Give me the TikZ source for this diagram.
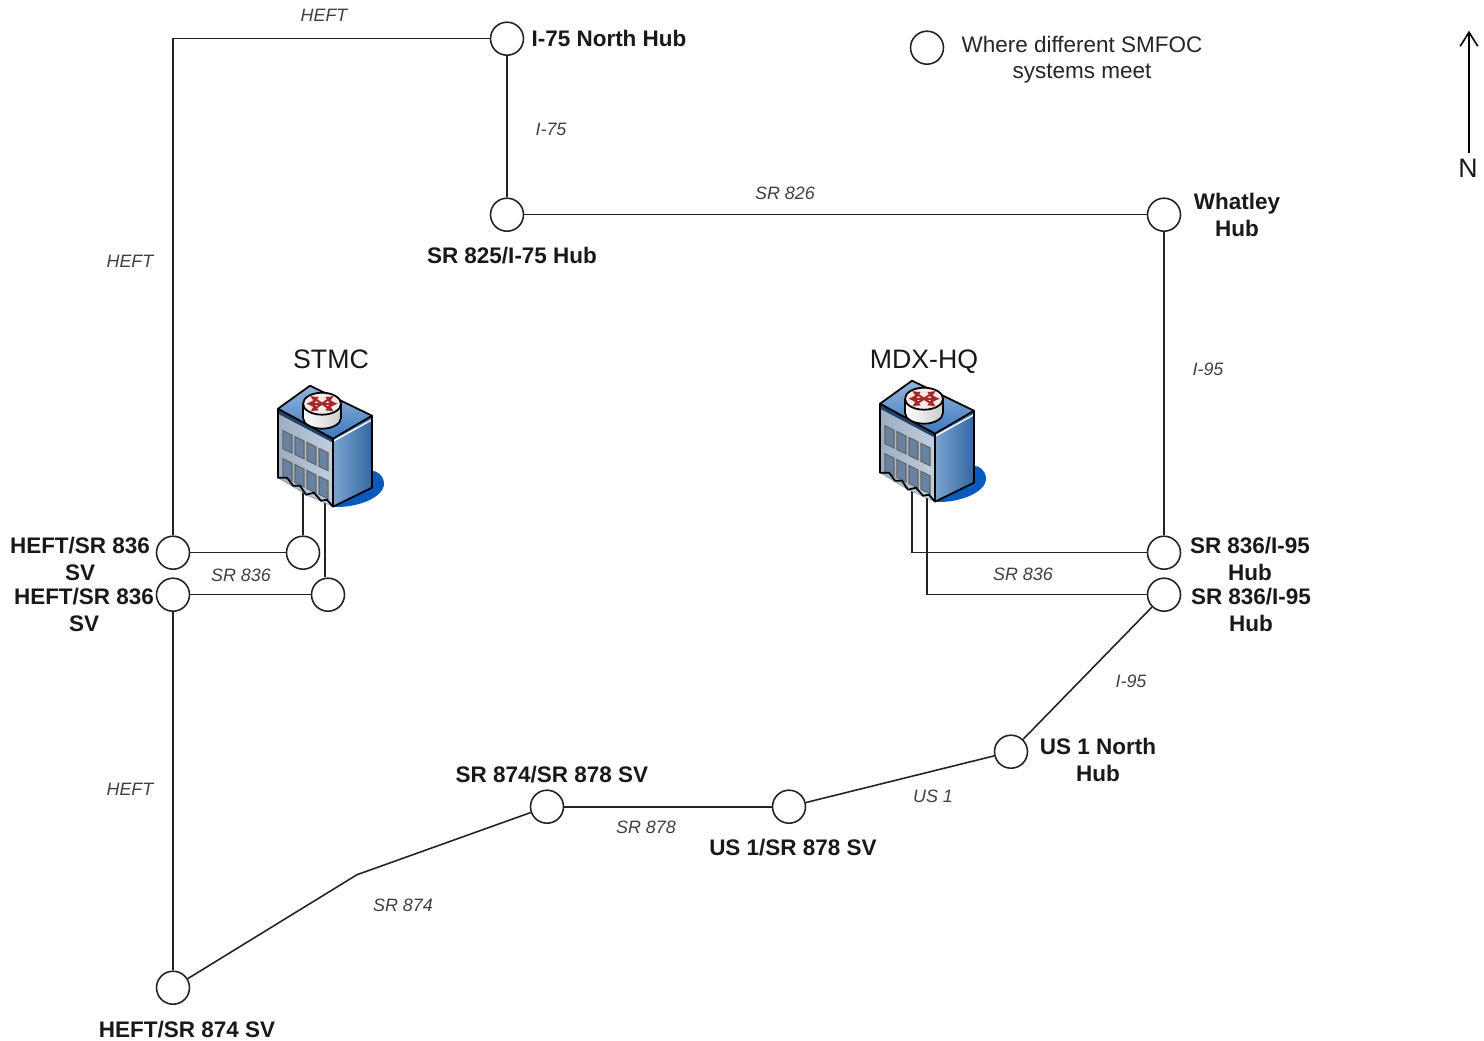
\documentclass[tikz,border=0pt]{standalone}
\usepackage{fontspec}
\setmainfont{Liberation Sans}
\definecolor{linegray}{RGB}{35,35,35}
\definecolor{roofblue}{RGB}{62,120,190}
\definecolor{wallblue}{RGB}{55,115,180}
\definecolor{wallgray}{RGB}{165,185,210}
\definecolor{windowgray}{RGB}{105,130,160}
\definecolor{shadowblue}{RGB}{10,90,190}
\definecolor{routerred}{RGB}{165,40,40}
\usetikzlibrary{arrows.meta,positioning}
\tikzset{
    hub/.style={draw=linegray, fill=white, circle, line width=0.9pt, minimum size=0.66cm, inner sep=0pt},
    hublabel/.style={font=\fontsize{12.8}{15.3}\selectfont\bfseries, align=center, inner sep=0pt, text=black!90},
    roadlabel/.style={font=\fontsize{10.2}{12}\selectfont\itshape, inner sep=0pt, text=black!75},
    sitelabel/.style={font=\fontsize{15.2}{18}\selectfont, inner sep=0pt, text=black!90},
    noteline/.style={font=\fontsize{12.8}{15.3}\selectfont, align=center, inner sep=0pt, text=black!85},
    link/.style={draw=linegray, line width=0.9pt},
    hqbuilding/.pic={
        % shadow on the ground
        \fill[shadowblue] (0,68) .. controls (20,70) and (52,60) .. (51,44) .. controls (50,36) and (44,32) .. (38,32) -- cycle;
        % walls
        \fill[left color=wallgray!80!gray, right color=wallgray!70!white] (-55,-30) -- (0,0) -- (0,68) -- (-27,56) -- (-55,39) -- cycle;
        \fill[left color=wallblue!65!white, right color=wallblue!90!black] (0,0) -- (39,-23) -- (39,49) -- (0,68) -- cycle;
        % roof
        \fill[top color=roofblue!55!white, bottom color=roofblue] (-23,-53) -- (39,-23) -- (0,0) -- (-55,-30) -- cycle;
        \fill[roofblue!55!black] (-55,-30) -- (0,0) -- (0,4) -- (-55,-25) -- cycle;
        \draw[white, line width=0.8pt] (1,2) -- (39,-19);
        % windows
        \foreach \wx in {-50,-38,-26,-14}{
            \draw[black!60, fill=windowgray, line width=0.6pt] (\wx,{-8+0.49*(\wx+50)}) -- ++(9,4.4) -- ++(0,18) -- ++(-9,-4.4) -- cycle;
            \draw[black!60, fill=windowgray, line width=0.6pt] (\wx,{20+0.49*(\wx+50)}) -- ++(9,4.4) -- ++(0,18) -- ++(-9,-4.4) -- cycle;
        }
        % outline
        \draw[black, line width=1pt, line join=round] (-23,-53) -- (39,-23) -- (39,49) -- (0,68) -- (-6,61) -- (-12,62) -- (-19,54) -- (-27,56) -- (-33,47) -- (-40,47) -- (-46,39) -- (-55,39) -- (-55,-30) -- cycle;
        \draw[black, line width=1pt] (-55,-30) -- (0,0) -- (39,-23);
        \draw[black, line width=0.8pt] (0,0) -- (0,68);
        % router on the roof
        \shade[left color=white, right color=black!20] (-30,-35) -- (-30,-21) arc[start angle=180, end angle=0, x radius=19, y radius=11] -- (8,-35) -- cycle;
        \draw[black, line width=1pt] (-30,-35) -- (-30,-21) arc[start angle=180, end angle=0, x radius=19, y radius=11] -- (8,-35);
        \draw[black, fill=white!90!routerred, line width=1pt] (-11,-35) ellipse [x radius=19, y radius=11];
        \foreach \ax/\ay in {-23/-43, 1/-43, -23/-27, 1/-27}{
            \draw[routerred, line width=1.2pt, {Latex[length=4.5pt,width=4.5pt]}-] (\ax,\ay) -- (-11,-35);
        }
        \draw[routerred, line width=1.2pt, {Latex[length=4.5pt,width=4.5pt]}-{Latex[length=4.5pt,width=4.5pt]}] (-27,-35) -- (5,-35);
    }
}

\begin{document}
\begin{tikzpicture}[x=0.02cm, y=-0.02cm]
    \useasboundingbox (0,-0.7) rectangle (1484,1040.3);

    % hubs
    \node[hub] (northhub) at (507,38) {};
    \node[hub] (sr825hub) at (507,214) {};
    \node[hub] (whatley) at (1164,214) {};
    \node[hub] (eastupper) at (1164,552) {};
    \node[hub] (eastlower) at (1164,594) {};
    \node[hub] (us1north) at (1011,751) {};
    \node[hub] (us1sr878) at (789,806) {};
    \node[hub] (sr874sr878) at (547,806) {};
    \node[hub] (heft874) at (173,987) {};
    \node[hub] (heftupper) at (173,552) {};
    \node[hub] (heftlower) at (173,594) {};
    \node[hub] (stmcupper) at (303,552) {};
    \node[hub] (stmclower) at (328,594) {};
    \node[hub] (legendhub) at (927,47) {};

    \coordinate (northwest) at (173,38);
    \coordinate (sr874bend) at (357,874);
    \coordinate (stmcportA) at (303,490);
    \coordinate (stmcportB) at (325,495);
    \coordinate (mdxportA) at (912,485);
    \coordinate (mdxportB) at (927,492);
    \coordinate (mdxcornerA) at (912,552);
    \coordinate (mdxcornerB) at (927,594);
    \coordinate (arrowfoot) at (1469,152);
    \coordinate (arrowtip) at (1469,30);

    % links
    \draw[link] (northhub) -- (northwest) -- (heftupper);
    \draw[link] (northhub) -- (sr825hub);
    \draw[link] (sr825hub) -- (whatley);
    \draw[link] (whatley) -- (eastupper);
    \draw[link] (eastlower) -- (us1north);
    \draw[link] (us1north) -- (us1sr878);
    \draw[link] (us1sr878) -- (sr874sr878);
    \draw[link] (sr874sr878) -- (sr874bend) -- (heft874);
    \draw[link] (heft874) -- (heftlower);
    \draw[link] (heftupper) -- (stmcupper);
    \draw[link] (heftlower) -- (stmclower);
    \draw[link] (stmcupper) -- (stmcportA);
    \draw[link] (stmclower.north -| stmcportB) -- (stmcportB);
    \draw[link] (eastupper) -- (mdxcornerA) -- (mdxportA);
    \draw[link] (eastlower) -- (mdxcornerB) -- (mdxportB);
    \draw[line width=0.9pt, -{Straight Barb[length=8pt,width=10pt]}] (arrowfoot) -- (arrowtip);

    % buildings
    \pic at (333,438) {hqbuilding};
    \pic at (935,433) {hqbuilding};

    % hub labels
    \node[hublabel] (northhublabel) at (609,37.5) {I-75 North Hub};
    \node[hublabel] (sr825label) at (512,254.5) {SR 825/I-75 Hub};
    \node[hublabel] (whatleylabel) at (1237,214) {Whatley\\Hub};
    \node[hublabel] (eastupperlabel) at (1250,558) {SR 836/I-95\\Hub};
    \node[hublabel] (eastlowerlabel) at (1251,609) {SR 836/I-95\\Hub};
    \node[hublabel] (heftupperlabel) at (80,558) {HEFT/SR 836\\SV};
    \node[hublabel] (heftlowerlabel) at (84,609) {HEFT/SR 836\\SV};
    \node[hublabel] (us1northlabel) at (1098,759) {US 1 North\\Hub};
    \node[hublabel] (sr874sr878label) at (552,773.5) {SR 874/SR 878 SV};
    \node[hublabel] (us1sr878label) at (793,846.5) {US 1/SR 878 SV};
    \node[hublabel] (heft874label) at (187,1028.5) {HEFT/SR 874 SV};

    % road labels
    \node[roadlabel] (heftnorth) at (324,15) {HEFT};
    \node[roadlabel] (heftwest) at (130,261) {HEFT};
    \node[roadlabel] (heftsouth) at (130,789) {HEFT};
    \node[roadlabel] (i75road) at (551,129) {I-75};
    \node[roadlabel] (sr826road) at (785,193) {SR 826};
    \node[roadlabel] (i95upper) at (1208,369) {I-95};
    \node[roadlabel] (i95lower) at (1131,681) {I-95};
    \node[roadlabel] (sr836west) at (241,575) {SR 836};
    \node[roadlabel] (sr836east) at (1023,574) {SR 836};
    \node[roadlabel] (us1road) at (933,796) {US 1};
    \node[roadlabel] (sr878road) at (646,827) {SR 878};
    \node[roadlabel] (sr874road) at (403,905) {SR 874};

    % sites, legend and north mark
    \node[sitelabel] (stmclabel) at (331,358.5) {STMC};
    \node[sitelabel] (mdxlabel) at (924,361) {MDX-HQ};
    \node[noteline] (legendtext) at (1082,59) {Where different SMFOC\\systems meet};
    \node[sitelabel] (northlabel) at (1468,168) {N};
\end{tikzpicture}
\end{document}
